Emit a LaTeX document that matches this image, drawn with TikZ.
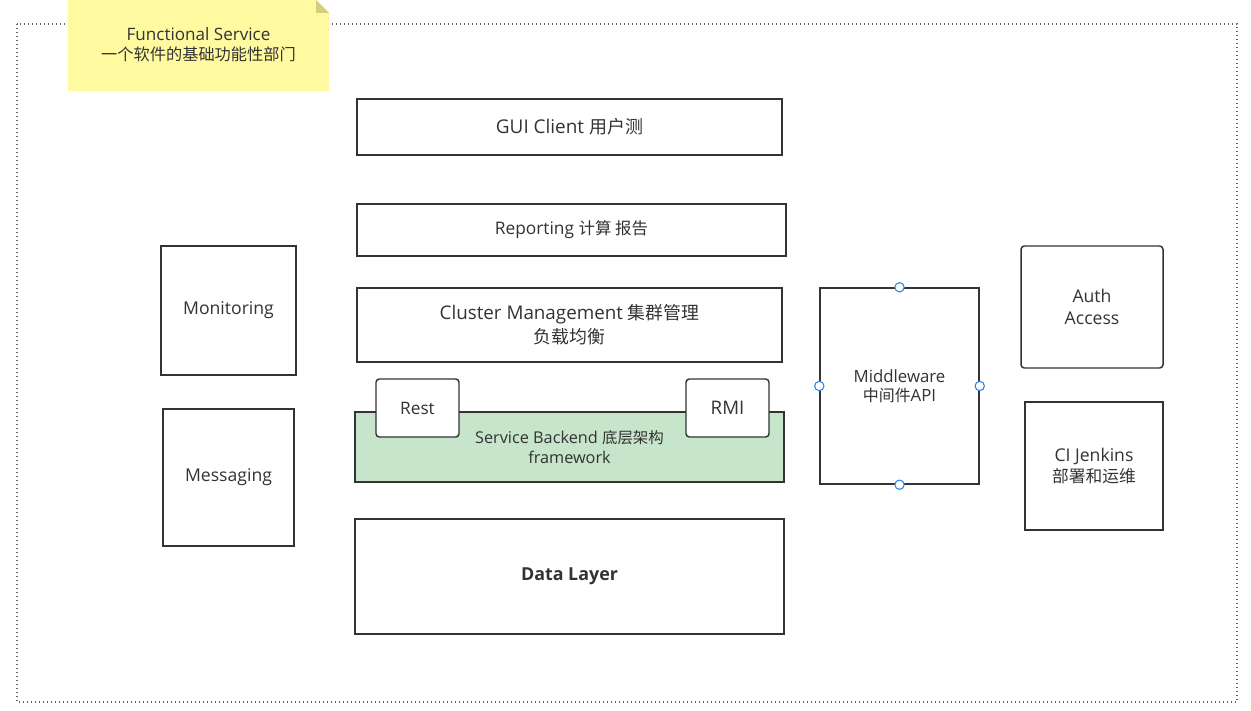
\documentclass[tikz,border=0pt]{standalone}
\usepackage{fontspec}
\setmainfont{Open Sans}
\newfontfamily\cjk{Noto Sans CJK SC}[Scale=0.95]
\definecolor{linegray}{HTML}{333333}
\definecolor{textgray}{HTML}{333333}
\definecolor{notefill}{HTML}{FFF9A0}
\definecolor{notefold}{HTML}{D3CF7E}
\definecolor{backendgreen}{HTML}{C6E5CA}
\definecolor{handleblue}{HTML}{2A86E8}
\tikzset{
  box/.style={draw=linegray,line width=1.1pt,fill=white,rectangle,inner sep=2pt,
    align=center,text=textgray,font=\fontsize{13.2}{17}\selectfont},
  roundbox/.style={box,rounded corners=2.5pt},
  handle/.style={draw=handleblue,line width=0.8pt,fill=white,circle,minimum size=7pt,inner sep=0pt},
}
\begin{document}
\begin{tikzpicture}[x=0.75pt,y=-0.75pt]
        \useasboundingbox (0,0) rectangle (1251,710);
        %% Frame
        \draw[gray!80!black,line width=1pt,dash pattern=on 1.1pt off 1.9pt] (17,24) rectangle (1237,702);
        %% Note
        \fill[notefill] (68,0) -- (316,0) -- (329,13) -- (329,91) -- (68,91) -- cycle;
        \fill[notefold] (316,0) -- (316,13) -- (329,13) -- cycle;
        \node[align=center,text=textgray,font=\fontsize{12.8}{15}\selectfont] (note) at (198.5,45) {Functional Service\\{\cjk 一个软件的基础功能性部门}};
        %% Main stack
        \node[box,minimum width=318.75pt,minimum height=42pt,font=\fontsize{14.2}{17}\selectfont] (gui) at (569.5,127) {GUI Client {\cjk 用户测}};
        \node[box,minimum width=321.75pt,minimum height=39pt,font=\fontsize{13}{15}\selectfont] (report) at (571.5,230) {Reporting {\cjk 计算 报告}};
        \node[box,minimum width=318.75pt,minimum height=55.5pt,font=\fontsize{14.1}{18}\selectfont] (cluster) at (569.5,325) {Cluster Management {\cjk 集群管理}\\{\cjk 负载均衡}};
        \node[box,fill=backendgreen,minimum width=321.75pt,minimum height=52.5pt,font=\fontsize{12.2}{15}\selectfont] (backend) at (569.5,447) {Service Backend {\cjk 底层架构}\\framework};
        \node[roundbox,minimum width=62.25pt,minimum height=43.5pt,font=\fontsize{12.9}{15}\selectfont] (rest) at (417.5,408) {Rest};
        \node[roundbox,minimum width=62.25pt,minimum height=43.5pt,font=\fontsize{14}{15}\selectfont] (rmi) at (727.5,408) {RMI};
        \node[box,minimum width=321.75pt,minimum height=86.25pt,font=\fontsize{13.4}{15}\selectfont\bfseries] (data) at (569.5,576.5) {Data Layer};
        %% Left side
        \node[box,minimum width=101.25pt,minimum height=96.75pt] (monitor) at (228.5,310.5) {Monitoring};
        \node[box,minimum width=98.25pt,minimum height=102.75pt] (msg) at (228.5,477.5) {Messaging};
        %% Right side
        \node[box,minimum width=119.25pt,minimum height=147pt,font=\fontsize{12.6}{14.5}\selectfont] (mw) at (899.5,386) {Middleware\\{\cjk 中间件}API};
        \node[handle] (mwn) at (mw.north) {};
        \node[handle] (mws) at (mw.south) {};
        \node[handle] (mww) at (mw.west) {};
        \node[handle] (mwe) at (mw.east) {};
        \node[roundbox,minimum width=106.5pt,minimum height=91.5pt] (auth) at (1092,307) {Auth\\Access};
        \node[box,minimum width=103.5pt,minimum height=96pt,font=\fontsize{13.2}{16}\selectfont] (ci) at (1094,466) {CI Jenkins\\{\cjk 部署和运维}};
    \end{tikzpicture}
\end{document}
